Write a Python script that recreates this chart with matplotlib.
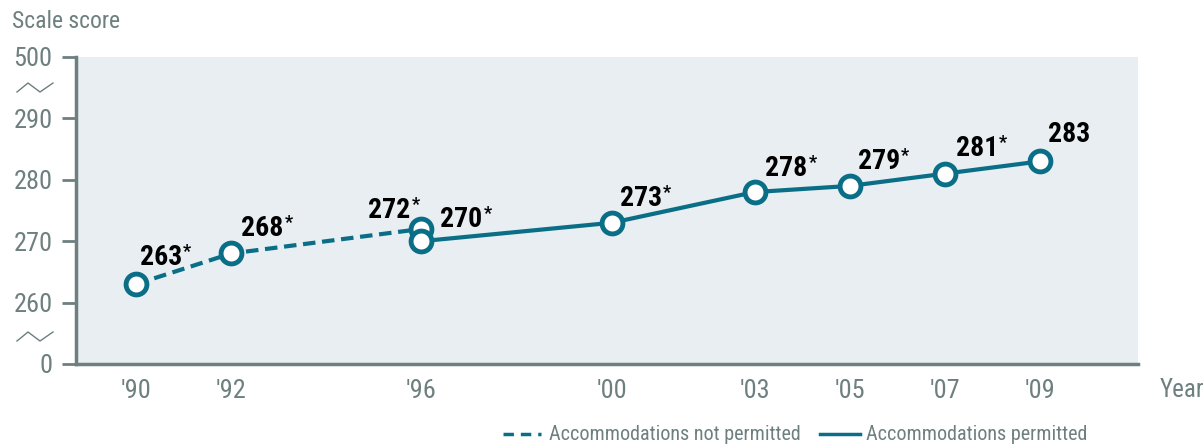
import os
import matplotlib.pyplot as plt
import matplotlib.font_manager as fm

# données
years_not = [1990, 1992, 1996]
scores_not = [263, 268, 272]
years_perm = [1996, 2000, 2003, 2005, 2007, 2009]
scores_perm = [270, 273, 278, 279, 281, 283]
year_ticks = [1990, 1992, 1996, 2000, 2003, 2005, 2007, 2009]
year_labels = ["'90", "'92", "'96", "'00", "'03", "'05", "'07", "'09"]
y_ticks = [250, 260, 270, 280, 290, 300]
y_labels = ['0', '260', '270', '280', '290', '500']
stars_not = [True, True, True]
stars_perm = [True, True, True, True, True, False]

# recherche d'une police étroite
def find_font(bold):
    cands = []
    for f in fm.fontManager.ttflist:
        b = os.path.basename(f.fname).lower()
        if not any(k in b for k in ('narrow', 'condensed', 'semicond')):
            continue
        if 'italic' in b or 'oblique' in b:
            continue
        if 'extra' in b or 'light' in b or 'thin' in b or 'black' in b or 'semibold' in b or 'medium' in b:
            continue
        if ('bold' in b) != bold:
            continue
        cands.append(f.fname)
    cands.sort(key=lambda p: (0 if 'liberation' in p.lower() else 1 if 'roboto' in p.lower() else 2, p))
    return cands[0] if cands else None

reg_file = find_font(False)
bold_file = find_font(True)
fp_reg = fm.FontProperties(fname=reg_file) if reg_file else fm.FontProperties(family='Roboto')
fp_bold = fm.FontProperties(fname=bold_file) if bold_file else fm.FontProperties(family='Roboto', weight='bold')

teal = '#0b6e87'
grey = '#6e7f7f'

fig = plt.figure(figsize=(12.03, 4.44), dpi=100)
ax = fig.add_axes([76/1203, 1-364/444, (1138-76)/1203, (364-57)/444])
ax.set_facecolor('#e8eef1')

ax.plot(years_not, scores_not, color=teal, lw=3, ls=(0, (3, 1.6)), zorder=3)
ax.plot(years_perm, scores_perm, color=teal, lw=3, zorder=3)
ax.plot(years_not, scores_not, 'o', ms=15, mfc='white', mec=teal, mew=3.5, zorder=4)
ax.plot(years_perm, scores_perm, 'o', ms=15, mfc='white', mec=teal, mew=3.5, zorder=4)

ax.set_xlim(1988.74, 2011.06)
ax.set_ylim(250, 300)

# offsets des étiquettes (pixels), bord gauche du nombre
off_not = [(4, 19), (10, 17), (-53, 11)]
off_perm = [(19, 14), (8, 17), (11, 16), (8, 17), (11, 18), (8, 19)]

renderer = fig.canvas.get_renderer()

def label(x, y, star, off):
    dx, dy = off
    t = ax.annotate(f'{y}', (x, y), xytext=(dx*0.72, dy*0.72), textcoords='offset points',
                    ha='left', va='baseline', fontproperties=fp_bold, fontsize=20,
                    color='black', zorder=5)
    if star:
        bb = t.get_window_extent(renderer)
        ax.annotate('*', (x, y), xytext=((dx + bb.width + 1)*0.72, (dy + 8)*0.72),
                    textcoords='offset points', ha='left', va='baseline',
                    fontproperties=fp_bold, fontsize=13, color='black', zorder=5)

for x, y, s, o in zip(years_not, scores_not, stars_not, off_not):
    label(x, y, s, o)
for x, y, s, o in zip(years_perm, scores_perm, stars_perm, off_perm):
    label(x, y, s, o)

ax.set_xticks(year_ticks)
ax.set_xticklabels(year_labels, fontproperties=fp_reg, fontsize=19)
ax.set_yticks(y_ticks)
ax.set_yticklabels(y_labels, fontproperties=fp_reg, fontsize=19)
ax.tick_params(axis='x', length=0, pad=11, labelcolor=grey)
ax.tick_params(axis='y', length=10, width=2, color=grey, pad=7, labelcolor=grey)

for s in ['top', 'right']:
    ax.spines[s].set_visible(False)
for s in ['left', 'bottom']:
    ax.spines[s].set_color(grey)
    ax.spines[s].set_linewidth(2.5)

# symboles de rupture d'échelle
for yb in [83, 332]:
    xs = [17/1203, 28/1203, 40/1203, 53/1203]
    ys = [1-(yb+9)/444, 1-yb/444, 1-(yb+9)/444, 1-yb/444]
    fig.add_artist(plt.Line2D(xs, ys, color=grey, lw=1))

fig.text(12/1203, 1-22/444, 'Scale score', fontproperties=fp_reg, fontsize=17, color=grey, va='center')
fig.text(1160/1203, 1-390/444, 'Year', fontproperties=fp_reg, fontsize=18, color=grey, va='center')

# légende
yl = 1-434/444
fig.add_artist(plt.Line2D([503/1203, 541/1203], [yl, yl], color=teal, lw=2.5, ls=(0, (3, 2))))
fig.text(549/1203, yl, 'Accommodations not permitted', fontproperties=fp_reg, fontsize=14.5, color=grey, va='center')
fig.add_artist(plt.Line2D([820/1203, 860/1203], [yl, yl], color=teal, lw=2.5))
fig.text(866/1203, yl, 'Accommodations permitted', fontproperties=fp_reg, fontsize=14.5, color=grey, va='center')

fig.savefig('out.png', dpi=100)
